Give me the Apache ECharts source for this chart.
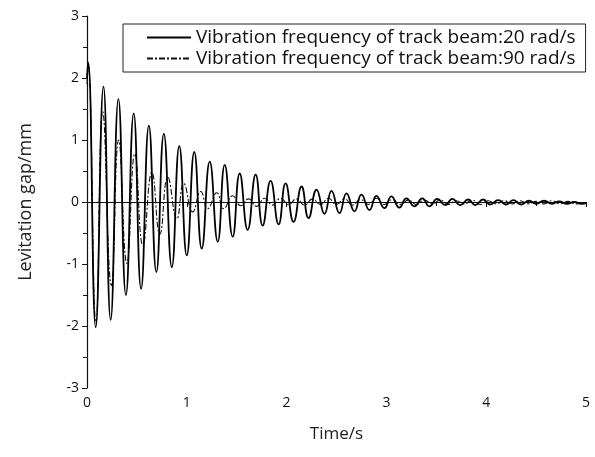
<!DOCTYPE html>
<html>
<head>
<meta charset="utf-8">
<script src="https://cdn.jsdelivr.net/npm/echarts@6/dist/echarts.min.js"></script>
<style>
html,body{margin:0;padding:0;background:#fff;}
#chart{width:595px;height:457px;}
</style>
</head>
<body>
<div id="chart"></div>
<script>
// Series names
const seriesNames = [
  'Vibration frequency of track beam:20 rad/s',
  'Vibration frequency of track beam:90 rad/s'
];
// Solid line (20 rad/s): time (s), levitation gap (mm) at turning points
const solidTime = [0,0.012,0.087,0.165,0.237,0.315,0.39,0.468,0.542,0.62,0.695,0.77,0.85,0.925,1.0,1.075,1.15,1.23,1.31,1.38,1.46,1.53,1.61,1.69,1.76,1.84,1.92,1.99,2.07,2.15,2.22,2.30,2.38,2.45,2.53,2.60,2.68,2.75,2.83,2.90,2.98,3.05,3.13,3.20,3.28,3.36,3.43,3.51,3.59,3.66,3.74,3.82,3.89,3.97,4.04,4.12,4.20,4.27,4.35,4.43,4.50,4.58,4.66,4.73,4.81,4.88,4.96,5.0];
const solidGap  = [2.0,2.25,-2.02,1.86,-1.90,1.66,-1.50,1.43,-1.40,1.23,-1.13,1.10,-1.05,0.90,-0.86,0.81,-0.75,0.65,-0.64,0.60,-0.56,0.46,-0.45,0.44,-0.38,0.34,-0.36,0.30,-0.32,0.25,-0.26,0.20,-0.19,0.18,-0.18,0.14,-0.15,0.12,-0.13,0.10,-0.10,0.09,-0.09,0.06,-0.07,0.06,-0.07,0.05,-0.05,0.05,-0.05,0.04,-0.05,0.04,-0.04,0.03,-0.04,0.03,-0.04,0.02,-0.03,0.02,-0.03,0.01,-0.03,0.0,-0.03,-0.02];
// Dash-dot line (90 rad/s)
const dashTime = [0,0.012,0.09,0.157,0.245,0.317,0.40,0.48,0.56,0.65,0.73,0.81,0.90,0.97,1.06,1.14,1.21,1.30,1.37,1.46,1.54,1.62,1.70,1.78,1.86,1.94,2.02,2.10,2.18,2.26,2.34,2.42,2.50,2.58,2.66,2.74,2.82,2.90,2.98,3.06,3.14,3.22,3.30,3.38,3.46,3.54,3.62,3.70,3.78,3.86,3.94,4.02,4.10,4.18,4.26,4.34,4.42,4.50,4.58,4.66,4.74,4.82,4.90,4.98];
const dashGap  = [1.9,2.2,-1.95,1.46,-1.35,1.0,-0.99,0.78,-0.70,0.48,-0.52,0.40,-0.27,0.30,-0.16,0.17,-0.11,0.15,-0.11,0.10,-0.06,0.05,-0.07,0.06,-0.05,0.06,-0.04,0.05,-0.05,0.05,-0.04,0.06,-0.04,0.05,-0.05,0.04,-0.04,0.06,-0.04,0.04,-0.04,0.03,-0.04,0.03,-0.03,0.03,-0.04,0.02,-0.03,0.03,-0.04,0.02,-0.03,0.02,-0.03,0.02,-0.03,0.01,-0.03,0.02,-0.03,0.01,-0.03,-0.02];
// Axis tick labels
const xTicks = ['0','1','2','3','4','5'];
const yTicks = ['-3','-2','-1','0','1','2','3'];

const FONT = '"Open Sans", "Noto Sans", sans-serif';
const zip = (a, b) => a.map((t, i) => [t, b[i]]);

const chart = echarts.init(document.getElementById('chart'), null, {renderer: 'canvas'});
chart.setOption({
  animation: false,
  backgroundColor: '#fff',
  grid: {left: 87, right: 9, top: 16, bottom: 69, containLabel: false},
  legend: {
    orient: 'vertical',
    left: 123, top: 24,
    borderColor: '#222', borderWidth: 1,
    padding: [4, 10, 4, 23],
    itemGap: 2,
    itemWidth: 44, itemHeight: 22,
    itemStyle: {opacity: 0},
    textStyle: {fontFamily: FONT, fontSize: 19, color: '#111'},
    data: seriesNames.map(n => ({name: n}))
  },
  xAxis: {
    type: 'value', min: 0, max: 5, interval: 1,
    name: 'Time/s', nameLocation: 'middle', nameGap: 38,
    nameTextStyle: {fontFamily: FONT, fontSize: 17, color: '#222'},
    axisLine: {show: true, lineStyle: {color: '#111', width: 1.2}},
    axisTick: {show: true, length: 5, lineStyle: {color: '#111'}},
    minorTick: {show: true, splitNumber: 2, length: 4, lineStyle: {color: '#111'}},
    splitLine: {show: false},
    axisLabel: {fontFamily: FONT, fontSize: 14, color: '#111', margin: 8,
      formatter: v => xTicks[Math.round(v)]}
  },
  yAxis: {
    type: 'value', min: -3, max: 3, interval: 1,
    name: 'Levitation gap/mm', nameLocation: 'middle', nameGap: 52,
    nameTextStyle: {fontFamily: FONT, fontSize: 18, color: '#222'},
    axisLine: {show: true, lineStyle: {color: '#111', width: 1.2}},
    axisTick: {show: true, length: 5, lineStyle: {color: '#111'}},
    minorTick: {show: true, splitNumber: 2, length: 4, lineStyle: {color: '#111'}},
    splitLine: {show: false},
    axisLabel: {fontFamily: FONT, fontSize: 14, color: '#111', margin: 8,
      formatter: v => yTicks[Math.round(v) + 3]}
  },
  series: [
    {
      name: seriesNames[0], type: 'line', symbol: 'none', smooth: 0.5,
      data: zip(solidTime, solidGap),
      lineStyle: {color: '#000', width: 1.8, type: 'solid'},
      itemStyle: {color: '#000'},
      z: 3
    },
    {
      name: seriesNames[1], type: 'line', symbol: 'none', smooth: 0.5,
      data: zip(dashTime, dashGap),
      lineStyle: {color: '#111', width: 1.1, type: [6, 2, 2, 2]},
      itemStyle: {color: '#111'},
      z: 2
    }
  ]
});
</script>
</body>
</html>
